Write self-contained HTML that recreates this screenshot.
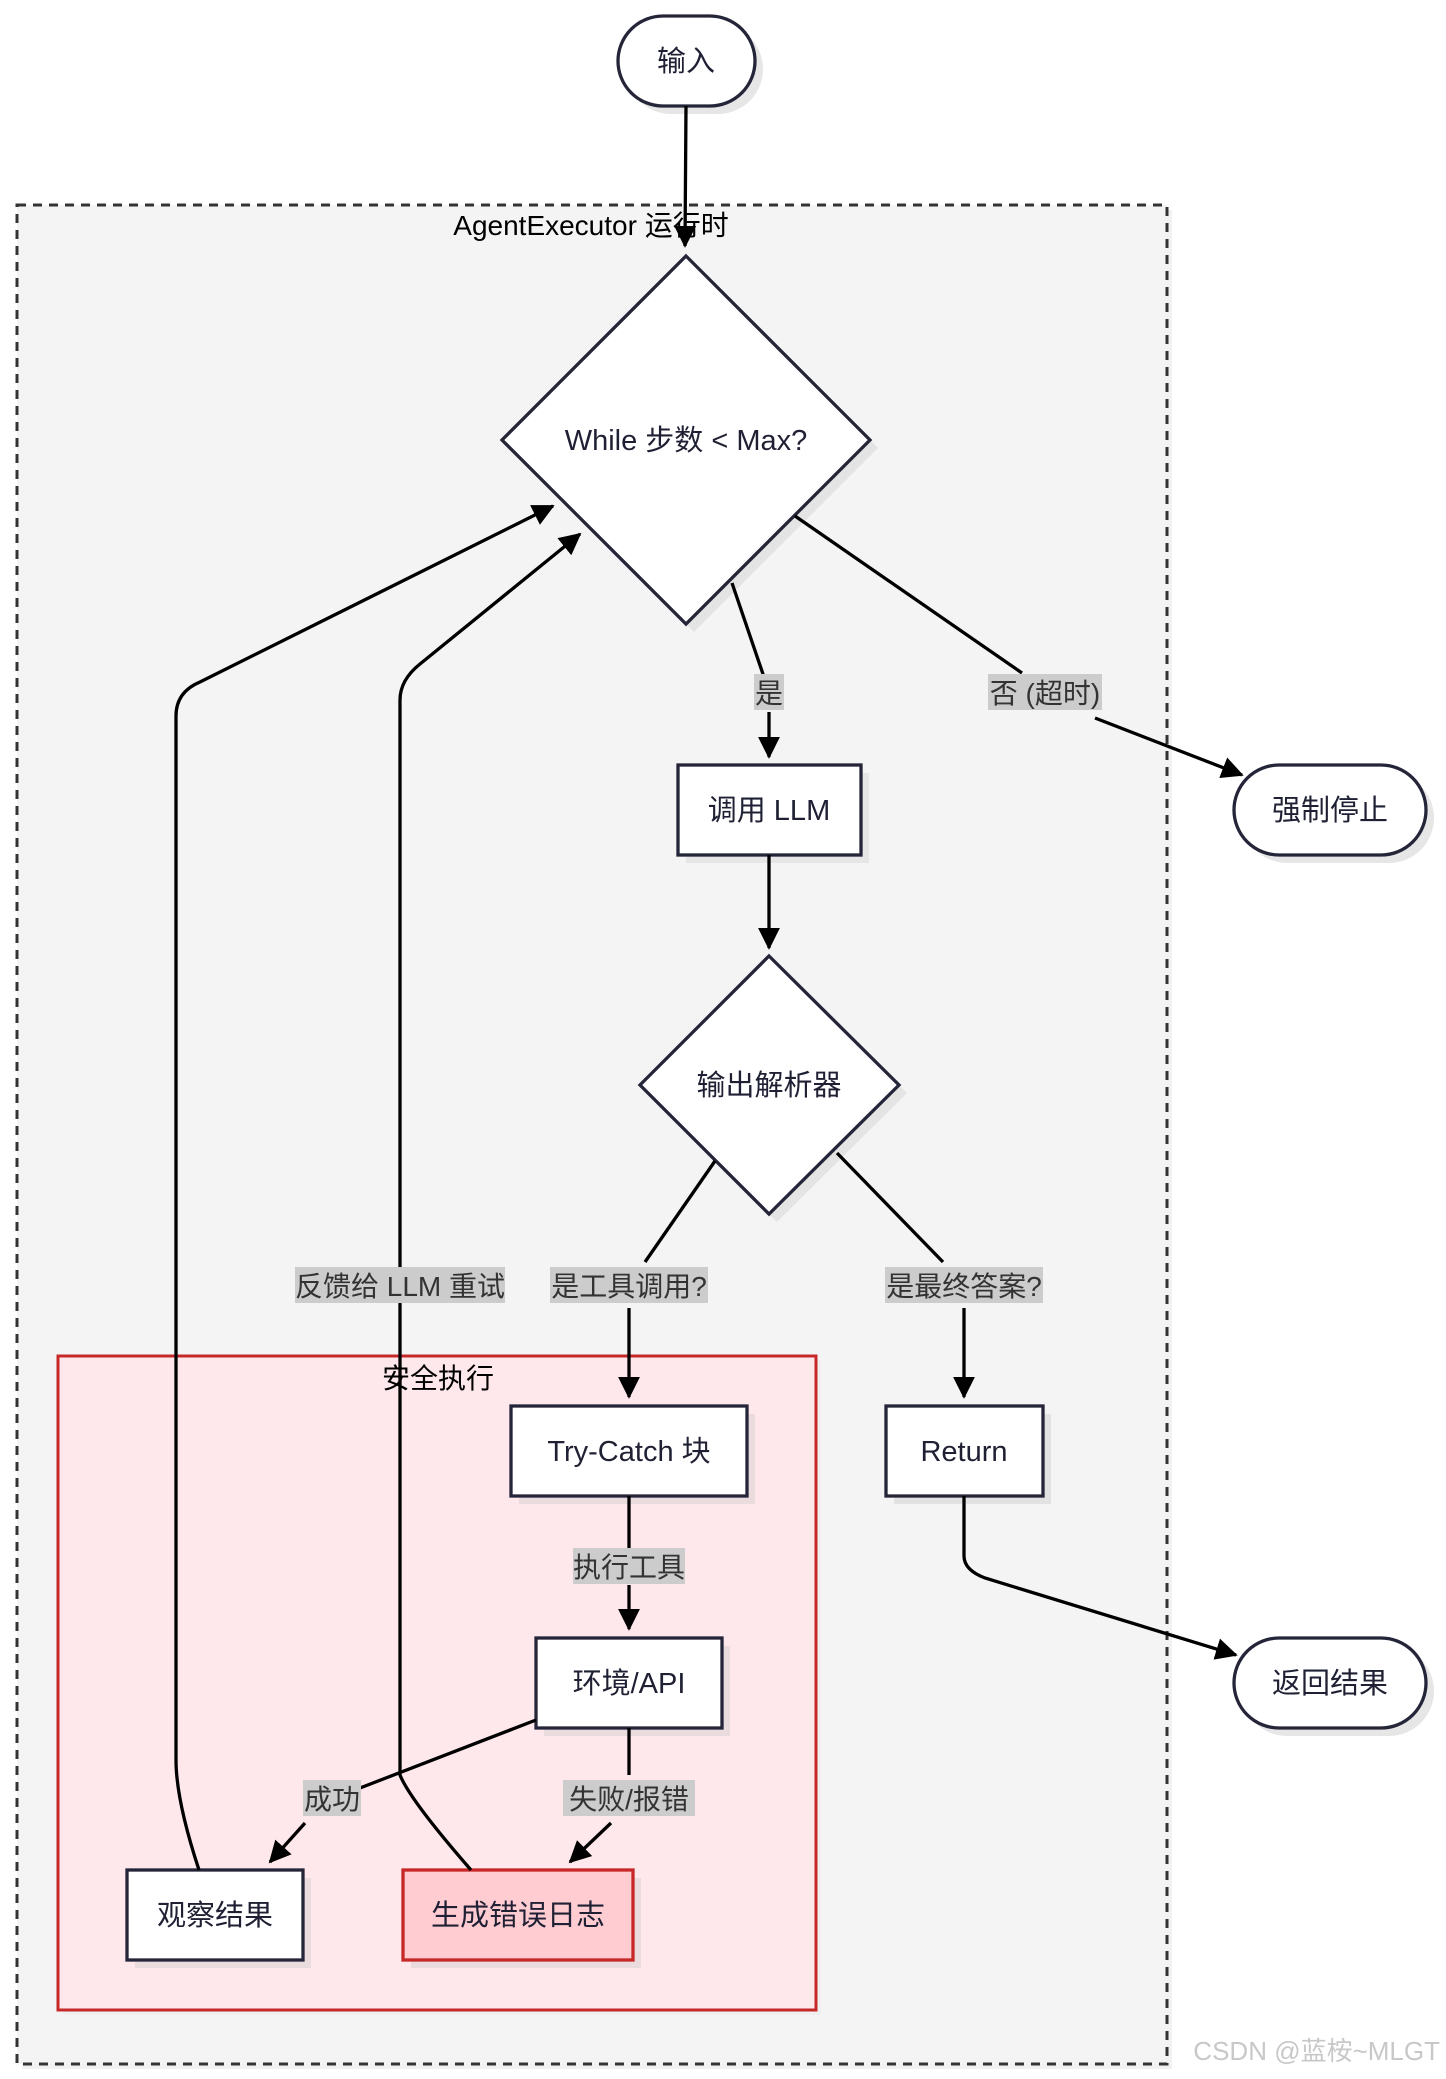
<!DOCTYPE html>
<html><head><meta charset="utf-8"><style>
html,body{margin:0;padding:0;background:#fff;}
svg{display:block;}
text{font-family:"Liberation Sans","Noto Sans CJK SC",sans-serif;font-size:29px;fill:#1f2033;}
.lb{fill:#333;font-size:28px;}
</style></head><body>
<svg width="1446" height="2079" viewBox="0 0 1446 2079" xmlns="http://www.w3.org/2000/svg">
<defs>
<marker id="ar" viewBox="0 0 12 12" refX="11" refY="6" markerWidth="22" markerHeight="22" orient="auto" markerUnits="userSpaceOnUse"><path d="M0,0 L12,6 L0,12 z" fill="#000"/></marker>
</defs>
<rect x="22" y="210" width="1150" height="1859" fill="#e8e8e8" opacity="0.6"/>
<rect x="17" y="205" width="1150" height="1859" fill="#f4f4f4" stroke="#333" stroke-width="3" stroke-dasharray="9,7"/>
<text x="591" y="235" text-anchor="middle" style="fill:#000;font-size:28px">AgentExecutor 运行时</text>
<rect x="63" y="1361" width="758" height="654" fill="#eee" opacity="0.7"/>
<rect x="58" y="1356" width="758" height="654" fill="#ffe8ec" stroke="#c62828" stroke-width="3"/>
<text x="438" y="1388" text-anchor="middle" style="fill:#000;font-size:28px">安全执行</text>

<rect x="626" y="24" width="137" height="90" rx="45" fill="#e6e6e6"/>
<rect x="618" y="16" width="137" height="90" rx="45" fill="#fff" stroke="#25253a" stroke-width="3.3"/>
<text x="686" y="71" text-anchor="middle">输入</text>

<polygon points="694,264 878,448 694,632 510,448" fill="#e4e4e4"/>
<polygon points="686,256 870,440 686,624 502,440" fill="#fff" stroke="#25253a" stroke-width="3.3"/>
<text x="686" y="450" text-anchor="middle">While 步数 &lt; Max?</text>

<rect x="1242" y="773" width="192" height="90" rx="45" fill="#e6e6e6"/>
<rect x="1234" y="765" width="192" height="90" rx="45" fill="#fff" stroke="#25253a" stroke-width="3.3"/>
<text x="1330" y="820" text-anchor="middle">强制停止</text>

<rect x="686" y="773" width="183" height="90" fill="#e6e6e6"/>
<rect x="678" y="765" width="183" height="90" fill="#fff" stroke="#25253a" stroke-width="3.3"/>
<text x="769" y="820" text-anchor="middle">调用 LLM</text>

<polygon points="777,964 907,1093 777,1222 648,1093" fill="#e4e4e4"/>
<polygon points="769,956 899,1085 769,1214 640,1085" fill="#fff" stroke="#25253a" stroke-width="3.3"/>
<text x="769" y="1095" text-anchor="middle">输出解析器</text>

<rect x="519" y="1414" width="236" height="90" fill="#eadbdf"/>
<rect x="511" y="1406" width="236" height="90" fill="#fff" stroke="#25253a" stroke-width="3.3"/>
<text x="629" y="1461" text-anchor="middle">Try-Catch 块</text>

<rect x="894" y="1414" width="157" height="90" fill="#e2e2e2"/>
<rect x="886" y="1406" width="157" height="90" fill="#fff" stroke="#25253a" stroke-width="3.3"/>
<text x="964" y="1461" text-anchor="middle">Return</text>

<rect x="544" y="1646" width="186" height="90" fill="#eadbdf"/>
<rect x="536" y="1638" width="186" height="90" fill="#fff" stroke="#25253a" stroke-width="3.3"/>
<text x="629" y="1693" text-anchor="middle">环境/API</text>

<rect x="1242" y="1646" width="192" height="90" rx="45" fill="#e6e6e6"/>
<rect x="1234" y="1638" width="192" height="90" rx="45" fill="#fff" stroke="#25253a" stroke-width="3.3"/>
<text x="1330" y="1693" text-anchor="middle">返回结果</text>

<rect x="135" y="1878" width="176" height="90" fill="#eadbdf"/>
<rect x="127" y="1870" width="176" height="90" fill="#fff" stroke="#25253a" stroke-width="3.3"/>
<text x="215" y="1925" text-anchor="middle">观察结果</text>

<rect x="411" y="1878" width="230" height="90" fill="#eadbdf"/>
<rect x="403" y="1870" width="230" height="90" fill="#ffccd2" stroke="#c62828" stroke-width="3.3"/>
<text x="518" y="1925" text-anchor="middle">生成错误日志</text>

<g fill="none" stroke="#000" stroke-width="3.3">
<path d="M686,106 L685,246" marker-end="url(#ar)"/>
<path d="M732,583 L765,680"/>
<path d="M769,712 L769,757" marker-end="url(#ar)"/>
<path d="M795,516 L1022,673"/>
<path d="M1095,718 L1242,775" marker-end="url(#ar)"/>
<path d="M769,855 L769,948" marker-end="url(#ar)"/>
<path d="M715,1161 L645,1262"/>
<path d="M629,1308 L629,1397" marker-end="url(#ar)"/>
<path d="M837,1153 L943,1262"/>
<path d="M964,1308 L964,1397" marker-end="url(#ar)"/>
<path d="M629,1496 L629,1550"/>
<path d="M629,1585 L629,1629" marker-end="url(#ar)"/>
<path d="M536,1720 L360,1788"/>
<path d="M305,1823 L270,1862" marker-end="url(#ar)"/>
<path d="M629,1728 L629,1775"/>
<path d="M611,1823 L570,1862" marker-end="url(#ar)"/>
<path d="M199,1870 Q176,1800 176,1760 L176,716 Q176,692 200,682 L553,506" marker-end="url(#ar)"/>
<path d="M471,1870 Q410,1800 400,1775 L400,700 Q400,680 420,664 L580,534" marker-end="url(#ar)"/>
<path d="M964,1496 L964,1556 Q964,1570 985,1578 L1236,1655" marker-end="url(#ar)"/>
</g>

<g>
<rect x="754" y="674" width="30" height="36" fill="#ccc"/>
<text x="769" y="703" text-anchor="middle" class="lb">是</text>
<rect x="988" y="674" width="114" height="36" fill="#ccc"/>
<text x="1045" y="703" text-anchor="middle" class="lb">否 (超时)</text>
<rect x="295" y="1267" width="210" height="36" fill="#ccc"/>
<text x="400" y="1296" text-anchor="middle" class="lb">反馈给 LLM 重试</text>
<rect x="550" y="1267" width="158" height="36" fill="#ccc"/>
<text x="629" y="1296" text-anchor="middle" class="lb">是工具调用?</text>
<rect x="885" y="1267" width="158" height="36" fill="#ccc"/>
<text x="964" y="1296" text-anchor="middle" class="lb">是最终答案?</text>
<rect x="573" y="1548" width="112" height="36" fill="#ccc"/>
<text x="629" y="1577" text-anchor="middle" class="lb">执行工具</text>
<rect x="303" y="1780" width="58" height="36" fill="#ccc"/>
<text x="332" y="1809" text-anchor="middle" class="lb">成功</text>
<rect x="563" y="1780" width="132" height="36" fill="#ccc"/>
<text x="629" y="1809" text-anchor="middle" class="lb">失败/报错</text>
</g>

<text x="1440" y="2060" text-anchor="end" style="fill:#c8c8c8;font-size:26px">CSDN @蓝桉~MLGT</text>
</svg>
</body></html>
